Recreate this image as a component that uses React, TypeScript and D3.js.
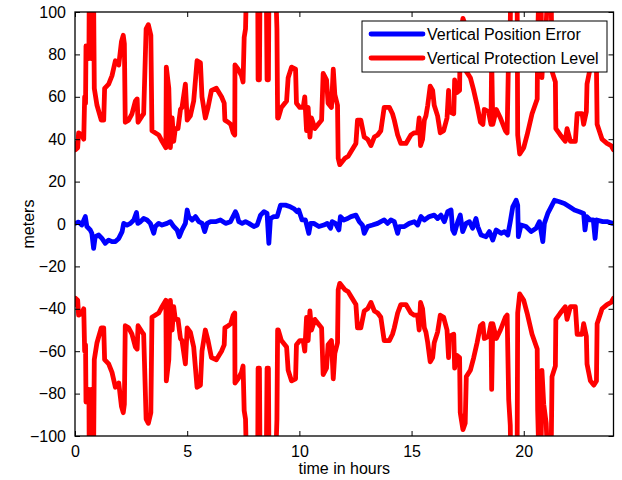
import React, { useEffect, useRef } from 'react';
import * as d3 from 'd3';

// vertical protection level, [hours, meters]; drawn as +VPL and -VPL
const vplData: [number, number][] = [
  [0.00, 38], [0.02, 35], [0.12, 36], [0.16, 43], [0.30, 42], [0.39, 40], [0.43, 60], [0.47, 57],
  [0.49, 84], [0.56, 78], [0.62, 78], [0.64, 120], [0.70, 120], [0.73, 78], [0.77, 120], [0.82, 120],
  [0.86, 64], [0.98, 56], [1.17, 49], [1.28, 49], [1.32, 64], [1.50, 66], [1.65, 70], [1.80, 77],
  [1.95, 75], [2.07, 86], [2.15, 89], [2.20, 85], [2.24, 48], [2.39, 49], [2.54, 52], [2.69, 58],
  [2.77, 59], [2.81, 48], [2.99, 51], [3.06, 52], [3.17, 92], [3.27, 94], [3.38, 89], [3.43, 44],
  [3.73, 42], [3.88, 39], [4.05, 36], [4.07, 74], [4.18, 64], [4.25, 36], [4.33, 50], [4.40, 39],
  [4.47, 45], [4.59, 45], [4.70, 54], [4.77, 55], [4.92, 66], [5.00, 49], [5.14, 51], [5.29, 58],
  [5.44, 77], [5.59, 76], [5.66, 60], [5.81, 50], [5.93, 55], [6.08, 63], [6.30, 64], [6.53, 60],
  [6.65, 57], [6.68, 49], [6.83, 48], [6.94, 47], [7.05, 43], [7.12, 42], [7.13, 75], [7.27, 73],
  [7.42, 70], [7.49, 67], [7.54, 88], [7.60, 92], [7.66, 120], [8.14, 120], [8.16, 68], [8.22, 68],
  [8.25, 120], [8.52, 120], [8.56, 68], [8.62, 68], [8.65, 120], [8.96, 106], [9.00, 92], [9.03, 50],
  [9.06, 50], [9.20, 55], [9.43, 58], [9.50, 69], [9.65, 74], [9.83, 73], [9.87, 57], [10.02, 55],
  [10.17, 55], [10.24, 60], [10.32, 44], [10.39, 55], [10.47, 41], [10.54, 50], [10.69, 45], [10.84, 47],
  [10.99, 49], [11.06, 71], [11.21, 68], [11.28, 57], [11.43, 55], [11.51, 73], [11.58, 61], [11.70, 56],
  [11.73, 31], [11.80, 28], [12.03, 31], [12.18, 32], [12.29, 34], [12.52, 38], [12.59, 49], [12.74, 49],
  [12.89, 41], [13.04, 40], [13.19, 37], [13.34, 41], [13.49, 42], [13.63, 44], [13.78, 55], [14.01, 55],
  [14.15, 52], [14.23, 49], [14.38, 42], [14.52, 38], [14.75, 38], [14.97, 42], [15.12, 43], [15.27, 43],
  [15.34, 50], [15.40, 37], [15.49, 40], [15.57, 49], [15.64, 51], [15.72, 56], [15.83, 65], [15.94, 63],
  [16.01, 56], [16.16, 51], [16.28, 43], [16.43, 44], [16.58, 50], [16.65, 63], [16.68, 53], [16.88, 52],
  [16.92, 68], [17.02, 62], [17.14, 63], [17.17, 89], [17.29, 97], [17.39, 94], [17.44, 72], [17.62, 69],
  [17.77, 63], [17.92, 56], [18.07, 48], [18.18, 47], [18.24, 54], [18.43, 53], [18.54, 47], [18.57, 78],
  [18.62, 47], [18.78, 54], [18.96, 50], [19.18, 44], [19.26, 43], [19.33, 83], [19.40, 95], [19.43, 120],
  [19.70, 120], [19.73, 42], [19.82, 33], [20.00, 36], [20.15, 42], [20.37, 52], [20.60, 59], [20.62, 88],
  [20.70, 120], [20.76, 120], [20.81, 69], [20.89, 85], [21.00, 94], [21.10, 120], [21.21, 120], [21.26, 72],
  [21.41, 67], [21.43, 45], [21.63, 42], [21.85, 39], [21.93, 45], [22.08, 39], [22.30, 39], [22.38, 52],
  [22.60, 52], [22.67, 47], [22.79, 53], [22.82, 66], [22.97, 74], [23.12, 76], [23.24, 74], [23.27, 47],
  [23.49, 40], [23.71, 38], [23.89, 37], [24.00, 35]
];

// vertical position error, [hours, meters]
const vpeData: [number, number][] = [
  [0.01, 0.3], [0.16, 0.9], [0.30, -0.5], [0.46, 3.5], [0.53, -1.2], [0.68, -2.8], [0.75, -4.4], [0.83, -11.5],
  [0.90, -6], [1.06, -5.2], [1.20, -6.8], [1.35, -9.1], [1.50, -7.6], [1.65, -8.3], [1.80, -8.3], [1.95, -6.8],
  [2.10, -3.6], [2.17, 0.3], [2.32, -0.5], [2.47, 0.3], [2.62, 1.9], [2.74, 5.4], [2.80, 0.3], [2.92, 1.1],
  [3.06, 2.6], [3.21, 1.9], [3.36, 0.3], [3.51, -4.4], [3.58, -1.2], [3.73, 0.3], [3.88, -0.5], [4.10, 0.3],
  [4.25, 1.1], [4.40, -1.2], [4.55, -2.8], [4.65, -6], [4.77, -2.8], [4.92, 0.3], [5.00, 6.6], [5.07, 3.5],
  [5.22, 1.9], [5.37, 3.5], [5.52, 1.1], [5.67, 0.3], [5.78, -3.6], [5.89, 0.3], [6.04, 1.1], [6.26, 1.1],
  [6.48, 1.9], [6.71, 0.3], [6.93, 1.1], [7.15, 5.8], [7.22, 4.2], [7.30, 1.1], [7.45, 0.3], [7.60, 1.1],
  [7.75, 0.3], [7.97, -1.2], [8.12, -0.5], [8.27, 4.2], [8.42, 5.8], [8.56, 5.0], [8.64, -9.1], [8.71, 2.6],
  [8.86, 3.5], [9.01, 3.5], [9.16, 8.9], [9.38, 8.9], [9.60, 8.1], [9.75, 7.3], [9.90, 5.8], [9.97, 6.6],
  [10.12, 1.9], [10.27, 1.9], [10.42, -4.4], [10.50, 0.3], [10.64, 0.3], [10.87, -1.2], [11.09, -0.5], [11.24, 0.3],
  [11.39, -2], [11.46, 1.1], [11.61, 0.3], [11.76, -2.8], [11.83, 3.5], [11.98, 1.9], [12.15, 2.6], [12.30, 3.5],
  [12.52, 4.2], [12.67, 1.1], [12.81, -0.5], [12.89, -4.4], [13.04, -1.2], [13.26, -0.5], [13.49, 0.3], [13.63, 1.1],
  [13.78, 1.9], [13.93, 0.3], [14.08, 1.9], [14.23, 1.1], [14.38, -4.4], [14.45, -1.2], [14.68, -1.2], [14.90, 0.3],
  [15.12, 1.1], [15.27, -0.5], [15.42, 3.5], [15.57, 1.9], [15.79, 3.5], [16.01, 4.2], [16.16, 2.6], [16.31, 4.2],
  [16.46, 1.1], [16.61, 5.8], [16.76, 6.6], [16.83, -2.8], [16.91, -4.4], [17.06, 1.1], [17.17, 4.2], [17.28, -3.6],
  [17.43, 0.3], [17.58, 1.1], [17.72, -2], [17.87, 2.6], [17.95, -1.2], [18.10, -5.2], [18.32, -6], [18.47, -3.6],
  [18.62, -7.6], [18.77, -2.8], [18.99, -4.4], [19.14, -3.6], [19.29, -5.2], [19.40, 1.1], [19.51, 8.1], [19.66, 11.2],
  [19.73, 8.9], [19.76, -6], [19.88, -0.5], [20.10, -1.2], [20.33, -3.6], [20.55, -2], [20.70, 1.1], [20.85, -8.3],
  [20.92, 0.3], [21.07, 5.0], [21.22, 8.1], [21.37, 11.2], [21.59, 10.5], [21.81, 9.7], [22.04, 8.1], [22.26, 6.6],
  [22.48, 5.8], [22.67, 5.0], [22.73, -2.8], [22.81, 3.5], [22.96, 1.9], [23.10, 1.9], [23.18, -6.8], [23.25, 1.9],
  [23.52, 1.1], [23.74, 1.1], [23.96, 0.3], [24.04, 0.3]
];

const xTicks = [0, 5, 10, 15, 20];
const yTicks = [-100, -80, -60, -40, -20, 0, 20, 40, 60, 80, 100];
const legendNames = ['Vertical Position Error', 'Vertical Protection Level'];
const legendColors = ['#0000ff', '#ff0000'];

export default function App() {
  const ref = useRef<SVGSVGElement>(null);

  useEffect(() => {
    const margin = { top: 12, right: 8.5, bottom: 44, left: 75 };
    const width = 622 - margin.left - margin.right;
    const height = 480 - margin.top - margin.bottom;
    const font = 'Arial, "Liberation Sans", Helvetica, sans-serif';
    const lw = 4.8;

    const root = d3.select(ref.current);
    root.selectAll('*').remove();

    const svg = root.append('g')
      .attr('transform', 'translate(' + margin.left + ',' + margin.top + ')');

    const x = d3.scaleLinear().domain([0, 24]).range([0, width]);
    const y = d3.scaleLinear().domain([-100, 100]).range([height, 0]);

    svg.append('clipPath').attr('id', 'plotclip')
      .append('rect').attr('width', width).attr('height', height);

    const plot = svg.append('g').attr('clip-path', 'url(#plotclip)');

    const upper = d3.line<[number, number]>().x(d => x(d[0])).y(d => y(d[1]));
    const lower = d3.line<[number, number]>().x(d => x(d[0])).y(d => y(-d[1]));

    // VPE first, then +/- VPL
    plot.append('path').attr('d', upper(vpeData))
      .attr('fill', 'none').attr('stroke', legendColors[0]).attr('stroke-width', lw)
      .attr('stroke-linejoin', 'round').attr('stroke-linecap', 'round');
    [upper, lower].forEach(ln => {
      plot.append('path').attr('d', ln(vplData))
        .attr('fill', 'none').attr('stroke', legendColors[1]).attr('stroke-width', lw)
        .attr('stroke-linejoin', 'round').attr('stroke-linecap', 'round');
    });

    // axes, MATLAB style: ticks inside on all four sides
    const tickLen = 5;
    const xb = d3.axisBottom(x).tickValues(xTicks).tickSizeInner(-tickLen).tickSizeOuter(0).tickPadding(10);
    const xt = d3.axisTop(x).tickValues(xTicks).tickSizeInner(-tickLen).tickSizeOuter(0).tickFormat(() => '');
    const yl = d3.axisLeft(y).tickValues(yTicks).tickSizeInner(-tickLen).tickSizeOuter(0).tickPadding(9);
    const yr = d3.axisRight(y).tickValues(yTicks).tickSizeInner(-tickLen).tickSizeOuter(0).tickFormat(() => '');

    const axes = [
      svg.append('g').attr('transform', 'translate(0,' + height + ')').call(xb),
      svg.append('g').call(xt),
      svg.append('g').call(yl),
      svg.append('g').attr('transform', 'translate(' + width + ',0)').call(yr),
    ];
    axes.forEach(g => {
      g.selectAll('.domain').remove();
      g.selectAll('line').attr('stroke', '#000').attr('stroke-width', 1);
      g.selectAll('text').attr('fill', '#000').style('font-family', font).style('font-size', '16px');
    });

    svg.append('rect')
      .attr('width', width).attr('height', height)
      .attr('fill', 'none').attr('stroke', '#000').attr('stroke-width', 1.3);

    // axis labels
    svg.append('text')
      .attr('text-anchor', 'middle')
      .attr('x', width / 2).attr('y', height + 38)
      .style('font-family', font).style('font-size', '16px')
      .text('time in hours');

    svg.append('text')
      .attr('text-anchor', 'middle')
      .attr('transform', 'translate(' + (-41) + ',' + (height / 2) + ') rotate(-90)')
      .style('font-family', font).style('font-size', '16px')
      .text('meters');

    // legend
    const le = svg.append('g').attr('transform', 'translate(' + (362 - margin.left) + ',' + (21 - margin.top) + ')');
    le.append('rect')
      .attr('width', 245).attr('height', 51)
      .attr('fill', '#fff').attr('stroke', '#000').attr('stroke-width', 1);
    legendNames.forEach((name, i) => {
      const ly = 13 + i * 24;
      le.append('line')
        .attr('x1', 9).attr('x2', 61).attr('y1', ly).attr('y2', ly)
        .attr('stroke', legendColors[i]).attr('stroke-width', lw).attr('stroke-linecap', 'round');
      le.append('text')
        .attr('x', 65).attr('y', ly).attr('dy', '0.36em')
        .style('font-family', font).style('font-size', '16px')
        .text(name);
    });
  }, []);

  return (
    <svg ref={ref} width={622} height={480}
      style={{ position: 'absolute', left: 0, top: 0, background: '#fff' }} />
  );
}
